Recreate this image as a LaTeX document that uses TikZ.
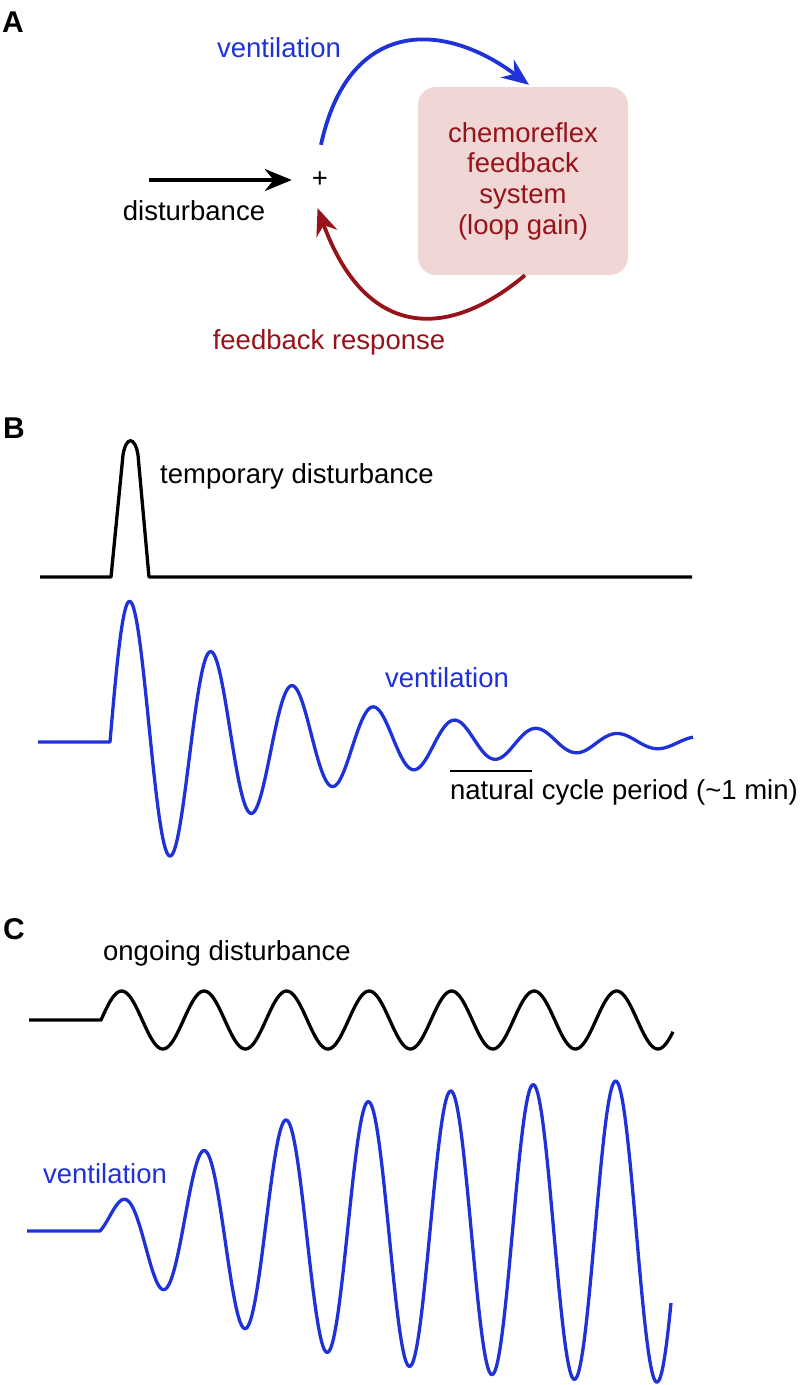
\documentclass[tikz,border=0pt]{standalone}
\usepackage{fontspec}
\setmainfont{Liberation Sans}
\usetikzlibrary{arrows.meta}
\definecolor{vblue}{RGB}{30,50,215}
\definecolor{fred}{RGB}{150,20,25}
\definecolor{boxpink}{RGB}{241,214,214}
\begin{document}
\begin{tikzpicture}[x=1pt,y=-1pt,
  lbl/.style={font=\fontsize{27.5}{30.7}\selectfont, inner sep=0pt, anchor=base},
  panel/.style={font=\fontsize{30}{30}\selectfont\bfseries, inner sep=0pt, anchor=base west},
  wave/.style={line width=3.3pt, line join=round},
  loopline/.style={line width=3.8pt},
  tip/.style={-{Stealth[length=27pt,width=22pt]}}
]
\useasboundingbox (0,0) rectangle (801,1385);

% ---------- Panel A ----------
\node[panel] (labA) at (2,32) {A};
\node[circle, minimum size=56pt, inner sep=0pt, font=\fontsize{27.5}{30}\selectfont] (plus) at (320,180) {+};
\node[fill=boxpink, rounded corners=18pt, minimum width=210pt, minimum height=188pt,
      align=center, text=fred, font=\fontsize{27.5}{30.7}\selectfont, inner sep=0pt]
      (box) at (523,181) {chemoreflex\\feedback\\system\\(loop gain)};
\node[lbl, text=vblue] (ventA) at (279,57.5) {ventilation};
\node[lbl] (distA) at (194,220) {disturbance};
\node[lbl, text=fred] (fbresp) at (329,349.5) {feedback response};
\coordinate (dstart) at (149,180);
\draw[loopline, tip] (dstart) -- (plus.west);
\draw[loopline, tip, vblue] ([yshift=7pt]plus.88) .. controls (348,20) and (441,19) .. ([xshift=6pt,yshift=2pt]box.north);
\draw[loopline, tip, fred] ([xshift=2pt]box.south) .. controls (448,340) and (366,340) .. (plus.265);

% ---------- Panel B ----------
\node[panel] (labB) at (3,438) {B};
\draw[wave] (40,577) -- (111,577) -- (123,455) .. controls (126,436) and (135,436) .. (138,455) -- (149,577) -- (692,577);
\node[lbl] (tempd) at (297,483) {temporary disturbance};
\draw[wave, vblue] (38,742) -- (110,742) -- plot[domain=110:693, samples=400, smooth]
  (\x, {742 - (163*exp(-(\x-110)/172) - 12*exp(-min((\x-110)/20,9)))*sin((360/81.3)*(\x-110))});
\node[lbl, text=vblue] (ventB) at (447,687) {ventilation};
\coordinate (barL) at (450,771);
\coordinate (barR) at (532,771);
\draw[line width=2.2pt] (barL) -- (barR);
\node[lbl] (ncp) at (624,799.5) {natural cycle period (\textasciitilde1 min)};

% ---------- Panel C ----------
\node[panel] (labC) at (3,939) {C};
\node[lbl] (ongo) at (227,960) {ongoing disturbance};
\draw[wave] (29,1020) -- (101,1020) -- plot[domain=101:673, samples=300, smooth]
  (\x, {1020 - 29*sin((360/82.5)*(\x-101))});
\draw[wave, vblue] (27,1231) -- (100,1231) -- plot[domain=100:671, samples=400, smooth]
  (\x, {1231 - (155*(1-exp(-(\x-100)/150)) + 14*exp(-(\x-100)/70))*sin((360/82.5)*(\x-100))});
\node[lbl, text=vblue] (ventC) at (105,1183) {ventilation};
\end{tikzpicture}
\end{document}
